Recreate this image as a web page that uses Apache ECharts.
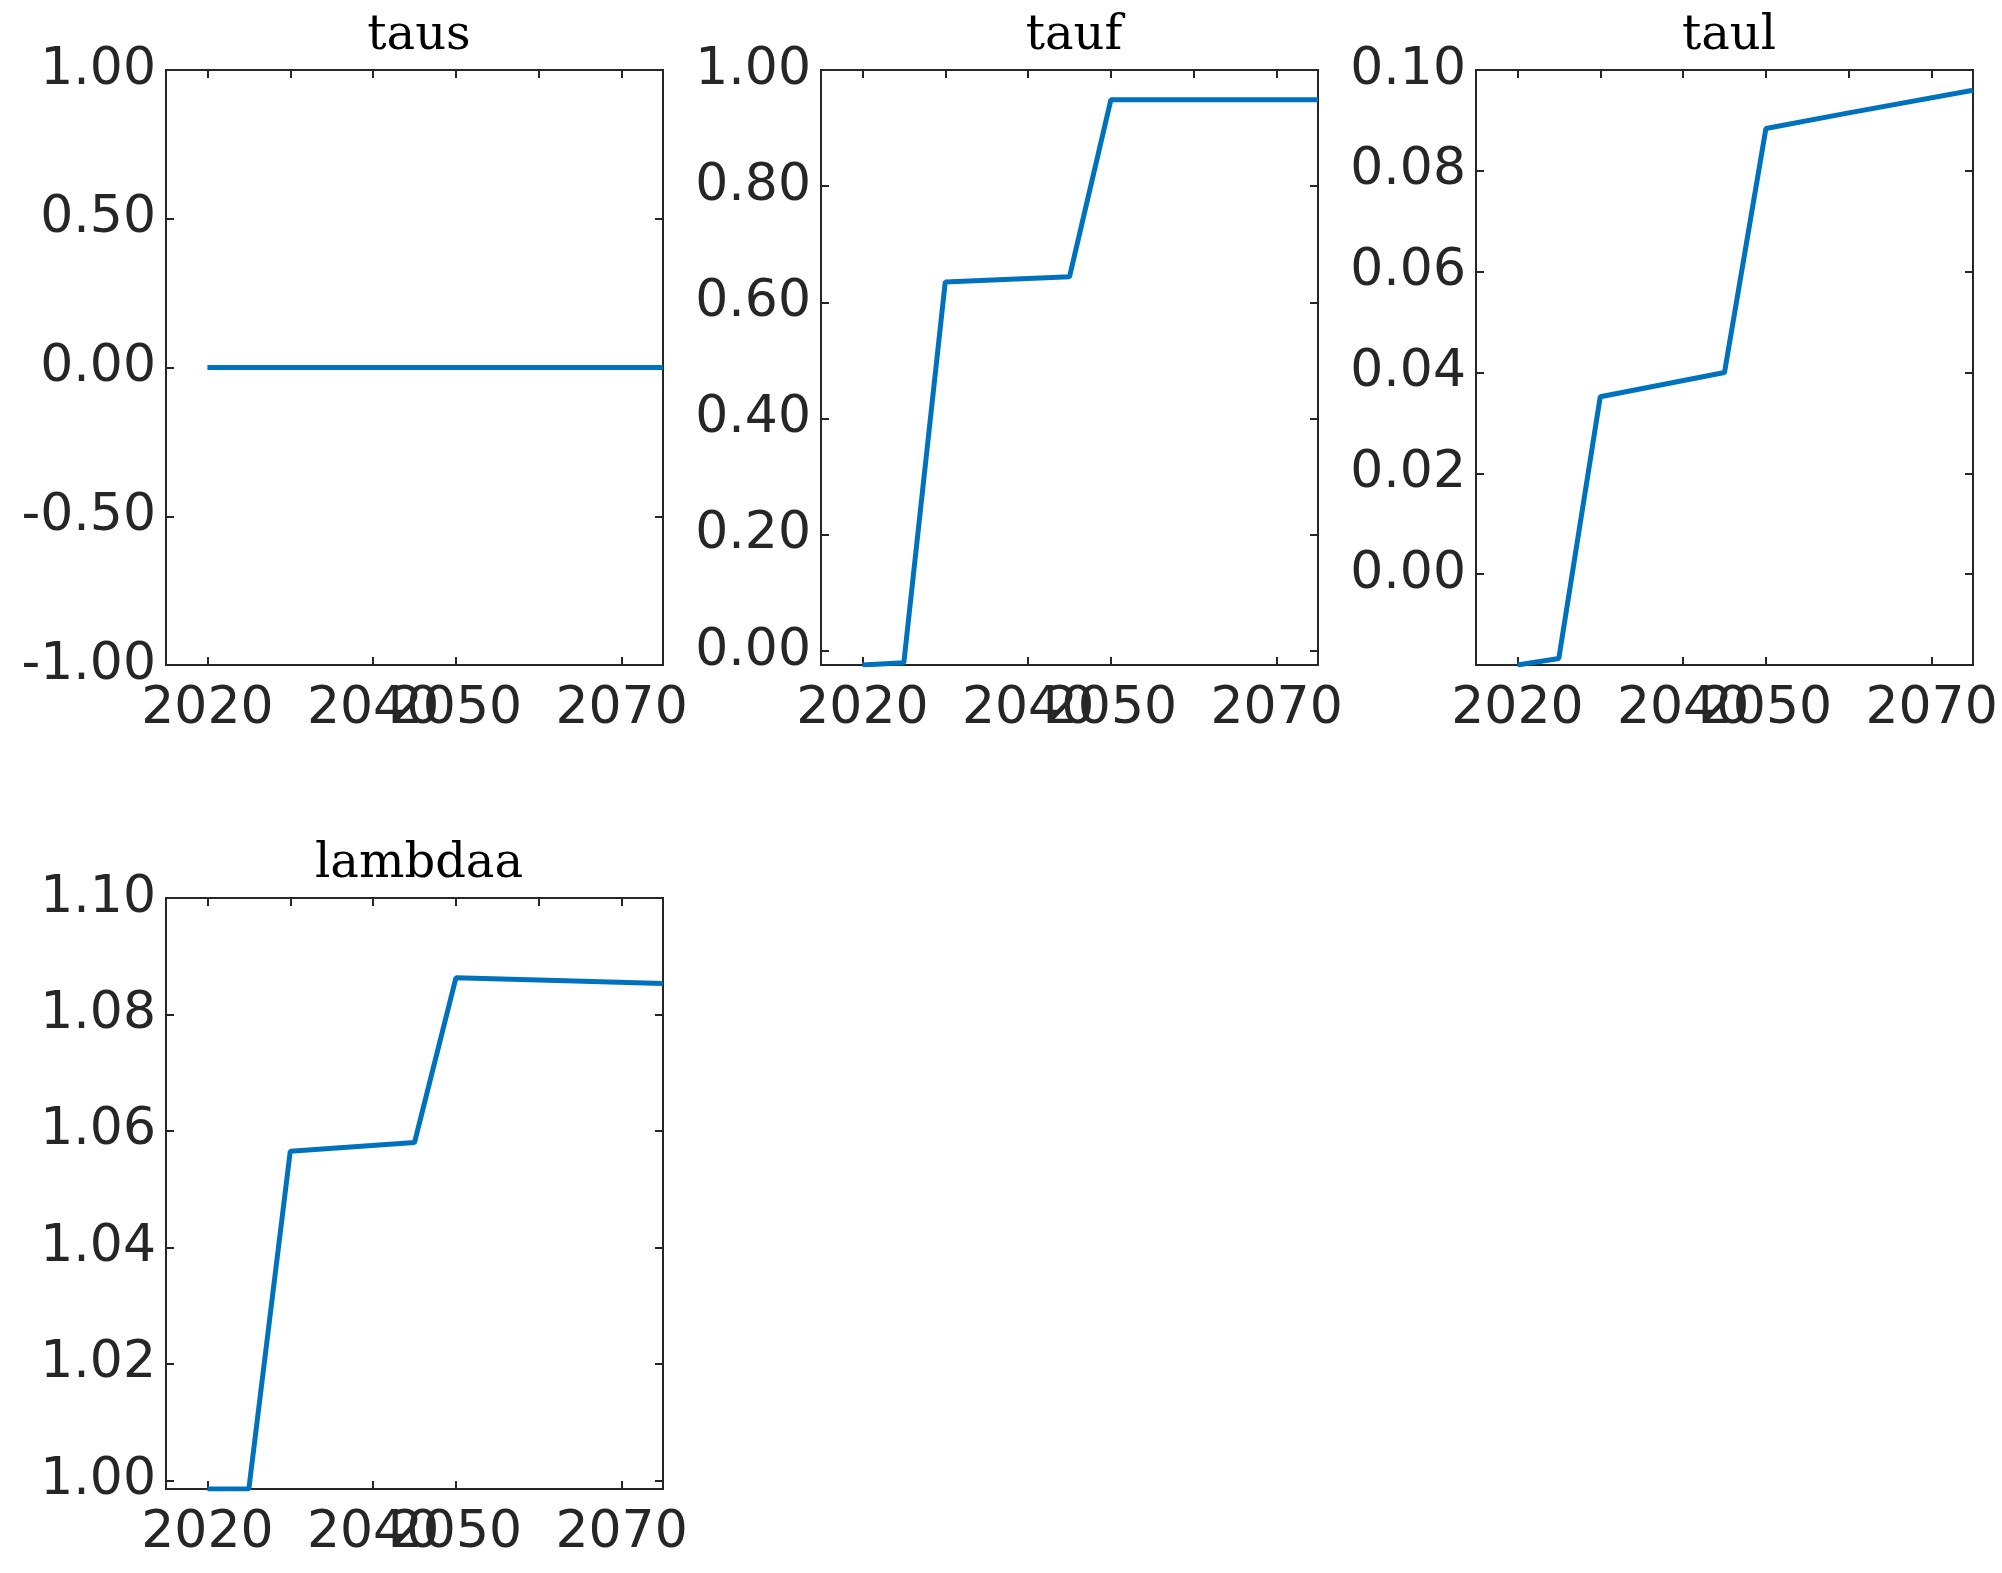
<!DOCTYPE html>
<html>
<head>
<meta charset="utf-8">
<script src="https://cdn.jsdelivr.net/npm/echarts@6/dist/echarts.min.js"></script>
<style>html,body{margin:0;background:#fff}#c{width:2002px;height:1573px}</style>
</head>
<body>
<div id="c"></div>
<script>
// years sampled in every panel
let years = [2020, 2025, 2030, 2045, 2050, 2060, 2075];
let xTicks = [2020, 2030, 2040, 2050, 2060, 2070];

let taus = [0, 0, 0, 0, 0, 0, 0];
let tauf = [-0.024, -0.02, 0.635, 0.644, 0.949, 0.949, 0.949];
let taul = [-0.018, -0.0167, 0.0352, 0.040, 0.0884, 0.0915, 0.096];
let lambdaa = [0.9985, 0.9985, 1.0565, 1.058, 1.0863, 1.0859, 1.0853];

let panels = [
    {name: 'taus', data: taus, min: -1, max: 1, ticks: [-1, -0.5, 0, 0.5, 1]},
    {name: 'tauf', data: tauf, min: -0.024, max: 1, ticks: [0, 0.2, 0.4, 0.6, 0.8, 1]},
    {name: 'taul', data: taul, min: -0.018, max: 0.1, ticks: [0, 0.02, 0.04, 0.06, 0.08, 0.1]},
    {name: 'lambdaa', data: lambdaa, min: 0.9985, max: 1.1, ticks: [1, 1.02, 1.04, 1.06, 1.08, 1.1]}
];
let boxes = [
    {left: 166, top: 70, height: 595},
    {left: 821, top: 70, height: 595},
    {left: 1476, top: 70, height: 595},
    {left: 166, top: 898, height: 591}
];

let txt = '#262626';
let font = 'DejaVu Sans';
let option = {grid: [], xAxis: [], yAxis: [], series: [], title: [], animation: false};

panels.forEach(function (p, i) {
    let b = boxes[i];
    option.grid.push({left: b.left, top: b.top, width: 497, height: b.height,
        show: true, borderColor: txt, borderWidth: 2, backgroundColor: '#fff'});
    option.title.push({text: p.name, left: b.left + 248, top: b.top - 62, textAlign: 'center',
        textStyle: {fontFamily: 'DejaVu Serif', fontWeight: 'normal', fontSize: 48, color: '#000'}});
    ['bottom', 'top'].forEach(function (pos, k) {
        option.xAxis.push({type: 'value', gridIndex: i, position: pos, min: 2015, max: 2075,
            splitLine: {show: false},
            axisLine: {show: false, onZero: false},
            axisTick: {show: true, inside: true, length: 8, customValues: xTicks, lineStyle: {color: txt, width: 2}},
            axisLabel: {show: k === 0, customValues: xTicks, fontSize: 52, color: txt, fontFamily: font,
                margin: 18, hideOverlap: false, showMinLabel: true, showMaxLabel: true,
                formatter: function (v) { return String(v); }}
        });
    });
    ['left', 'right'].forEach(function (pos, k) {
        option.yAxis.push({type: 'value', gridIndex: i, position: pos, min: p.min, max: p.max,
            splitLine: {show: false},
            axisLine: {show: false, onZero: false},
            axisTick: {show: true, inside: true, length: 8, customValues: p.ticks, lineStyle: {color: txt, width: 2}},
            axisLabel: {show: k === 0, customValues: p.ticks, fontSize: 52, color: txt, fontFamily: font,
                margin: 10, showMinLabel: true, showMaxLabel: true,
                formatter: function (v) { return v.toFixed(2); }}
        });
    });
    option.series.push({type: 'line', xAxisIndex: i * 2, yAxisIndex: i * 2, showSymbol: false,
        data: years.map(function (y, j) { return [y, p.data[j]]; }),
        lineStyle: {color: '#0072BD', width: 5}, clip: true});
});

echarts.init(document.getElementById('c')).setOption(option);
</script>
</body>
</html>
